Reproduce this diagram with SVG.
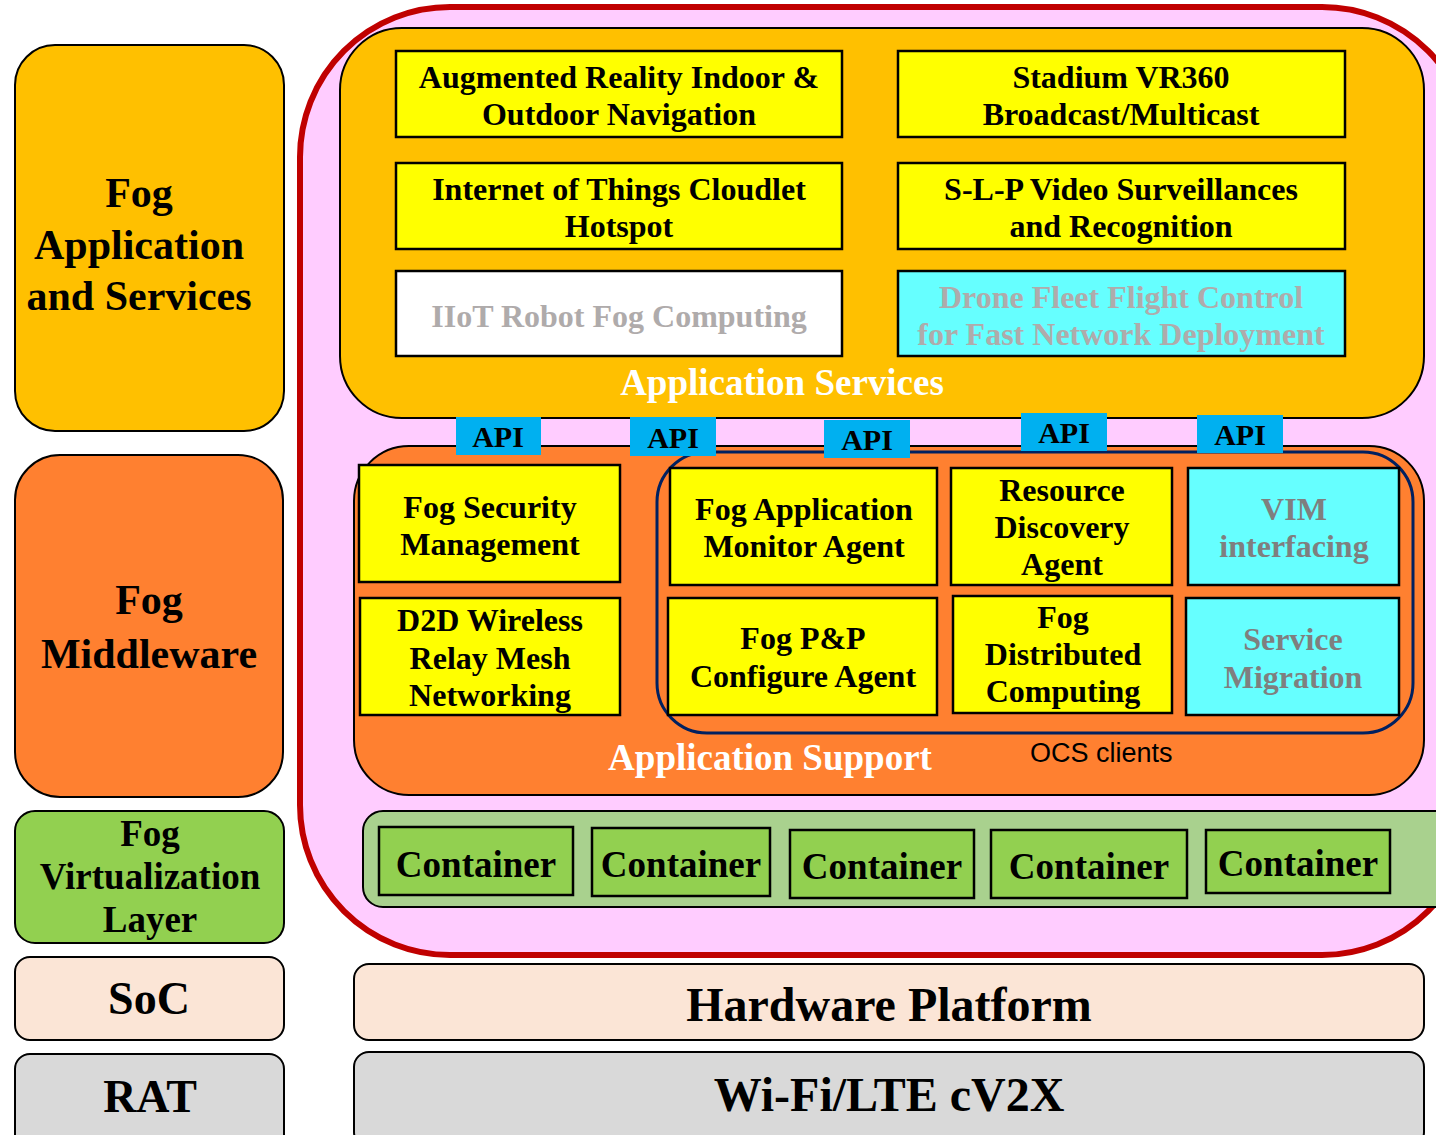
<svg xmlns="http://www.w3.org/2000/svg" width="1436" height="1135" viewBox="0 0 1436 1135">
  <style>
    text { font-family: "Liberation Serif", "Times New Roman", serif; font-weight: bold; text-anchor: middle; fill: #000; }
    .box { stroke: #000; stroke-width: 2.5; }
    .yel { fill: #FFFF00; }
    .cyan { fill: #66FFFF; }
    .api { fill: #00B0F0; }
    .t31 { font-size: 32px; }
    .faint { fill: #AFABAB; }
    .grey { fill: #7F7F7F; }
    .white { fill: #FFFFFF; }
    .cont { fill: #92D050; stroke: #000; stroke-width: 2.5; }
  </style>

  <rect width="1436" height="1135" fill="#FFFFFF"/>

  <!-- left column: layer labels -->
  <g id="layer-app">
    <rect x="15" y="45" width="269" height="386" rx="40" fill="#FFC000" stroke="#000" stroke-width="2"/>
    <text x="139" y="207" font-size="42">Fog</text>
    <text x="139" y="259" font-size="42">Application</text>
    <text x="139" y="310" font-size="42">and Services</text>
  </g>
  <g id="layer-middleware">
    <rect x="15" y="455" width="268" height="342" rx="45" fill="#FF8030" stroke="#000" stroke-width="2"/>
    <text x="149" y="614" font-size="42">Fog</text>
    <text x="149" y="668" font-size="42">Middleware</text>
  </g>
  <g id="layer-virtualization">
    <rect x="15" y="811" width="269" height="132" rx="20" fill="#92D050" stroke="#000" stroke-width="2"/>
    <text x="150" y="846" font-size="37">Fog</text>
    <text x="150" y="889" font-size="37">Virtualization</text>
    <text x="150" y="932" font-size="37">Layer</text>
  </g>
  <g id="layer-soc">
    <rect x="15" y="957" width="269" height="83" rx="15" fill="#FBE5D6" stroke="#000" stroke-width="2"/>
    <text x="149" y="1014" font-size="46">SoC</text>
  </g>
  <g id="layer-rat">
    <rect x="15" y="1054" width="269" height="95" rx="15" fill="#D9D9D9" stroke="#000" stroke-width="2"/>
    <text x="150" y="1112" font-size="46">RAT</text>
  </g>

  <!-- fog node envelope -->
  <g id="fog-node">
    <rect x="300" y="7" width="1172" height="948" rx="150" fill="#FFCCFF" stroke="#C00000" stroke-width="6"/>
  </g>

  <!-- application services -->
  <g id="app-services">
    <rect x="340" y="28" width="1084" height="390" rx="62" fill="#FFC000" stroke="#000" stroke-width="2"/>
    <text class="white" x="782" y="395" font-size="37">Application Services</text>
  </g>
  <g id="svc-ar">
    <rect class="box yel" x="396" y="51" width="446" height="86"/>
    <text class="t31" x="619" y="88">Augmented Reality Indoor &amp;</text>
    <text class="t31" x="619" y="125">Outdoor Navigation</text>
  </g>
  <g id="svc-vr360">
    <rect class="box yel" x="898" y="51" width="447" height="86"/>
    <text class="t31" x="1121" y="88">Stadium VR360</text>
    <text class="t31" x="1121" y="125">Broadcast/Multicast</text>
  </g>
  <g id="svc-iot">
    <rect class="box yel" x="396" y="163" width="446" height="86"/>
    <text class="t31" x="619" y="200">Internet of Things Cloudlet</text>
    <text class="t31" x="619" y="237">Hotspot</text>
  </g>
  <g id="svc-video">
    <rect class="box yel" x="898" y="163" width="447" height="86"/>
    <text class="t31" x="1121" y="200">S-L-P Video Surveillances</text>
    <text class="t31" x="1121" y="237">and Recognition</text>
  </g>
  <g id="svc-iiot">
    <rect class="box" x="396" y="271" width="446" height="85" fill="#FFFFFF"/>
    <text class="t31 faint" x="619" y="327">IIoT Robot Fog Computing</text>
  </g>
  <g id="svc-drone">
    <rect class="box cyan" x="898" y="271" width="447" height="85"/>
    <text class="t31 faint" x="1121" y="308">Drone Fleet Flight Control</text>
    <text class="t31 faint" x="1121" y="345">for Fast Network Deployment</text>
  </g>

  <!-- application support -->
  <g id="app-support">
    <rect x="354" y="446" width="1070" height="349" rx="55" fill="#FF8030" stroke="#000" stroke-width="2"/>
    <text class="white" x="770" y="770" font-size="37">Application Support</text>
  </g>
  <g id="ocs-clients">
    <rect x="657" y="452" width="756" height="281" rx="50" fill="none" stroke="#002060" stroke-width="3"/>
    <text x="1030" y="762" font-size="27" style="font-family:'Liberation Sans',Arial,sans-serif;font-weight:normal;text-anchor:start">OCS clients</text>
  </g>
  <g id="sup-security">
    <rect class="box yel" x="359" y="465" width="261" height="117"/>
    <text class="t31" x="490" y="518">Fog Security</text>
    <text class="t31" x="490" y="555">Management</text>
  </g>
  <g id="sup-d2d">
    <rect class="box yel" x="360" y="598" width="260" height="117"/>
    <text class="t31" x="490" y="631">D2D Wireless</text>
    <text class="t31" x="490" y="669">Relay Mesh</text>
    <text class="t31" x="490" y="706">Networking</text>
  </g>
  <g id="sup-monitor">
    <rect class="box yel" x="670" y="468" width="267" height="117"/>
    <text class="t31" x="804" y="520">Fog Application</text>
    <text class="t31" x="804" y="557">Monitor Agent</text>
  </g>
  <g id="sup-discovery">
    <rect class="box yel" x="951" y="468" width="221" height="117"/>
    <text class="t31" x="1062" y="501">Resource</text>
    <text class="t31" x="1062" y="538">Discovery</text>
    <text class="t31" x="1062" y="575">Agent</text>
  </g>
  <g id="sup-vim">
    <rect class="box cyan" x="1188" y="468" width="211" height="117"/>
    <text class="t31 grey" x="1294" y="520">VIM</text>
    <text class="t31 grey" x="1294" y="557">interfacing</text>
  </g>
  <g id="sup-pnp">
    <rect class="box yel" x="668" y="598" width="269" height="117"/>
    <text class="t31" x="803" y="649">Fog P&amp;P</text>
    <text class="t31" x="803" y="687">Configure Agent</text>
  </g>
  <g id="sup-distributed">
    <rect class="box yel" x="953" y="596" width="219" height="117"/>
    <text class="t31" x="1063" y="628">Fog</text>
    <text class="t31" x="1063" y="665">Distributed</text>
    <text class="t31" x="1063" y="702">Computing</text>
  </g>
  <g id="sup-migration">
    <rect class="box cyan" x="1186" y="598" width="213" height="117"/>
    <text class="t31 grey" x="1293" y="650">Service</text>
    <text class="t31 grey" x="1293" y="688">Migration</text>
  </g>

  <!-- API tabs between services and support -->
  <g id="api-1"><rect class="api" x="456" y="417" width="85" height="38"/><text x="498" y="447" font-size="30">API</text></g>
  <g id="api-2"><rect class="api" x="630" y="417" width="86" height="39"/><text x="673" y="448" font-size="30">API</text></g>
  <g id="api-3"><rect class="api" x="824" y="420" width="86" height="38"/><text x="867" y="450" font-size="30">API</text></g>
  <g id="api-4"><rect class="api" x="1021" y="413" width="86" height="38"/><text x="1064" y="443" font-size="30">API</text></g>
  <g id="api-5"><rect class="api" x="1197" y="415" width="86" height="38"/><text x="1240" y="445" font-size="30">API</text></g>

  <!-- virtualization layer with containers -->
  <g id="virtualization">
    <rect x="363" y="811" width="1100" height="96" rx="20" fill="#A9D18E" stroke="#000" stroke-width="2"/>
  </g>
  <g id="container-1"><rect class="cont" x="379" y="827" width="194" height="68"/><text x="476" y="877" font-size="37">Container</text></g>
  <g id="container-2"><rect class="cont" x="592" y="828" width="178" height="68"/><text x="681" y="877" font-size="37">Container</text></g>
  <g id="container-3"><rect class="cont" x="790" y="830" width="184" height="68"/><text x="882" y="879" font-size="37">Container</text></g>
  <g id="container-4"><rect class="cont" x="991" y="830" width="196" height="68"/><text x="1089" y="879" font-size="37">Container</text></g>
  <g id="container-5"><rect class="cont" x="1206" y="830" width="184" height="63"/><text x="1298" y="876" font-size="37">Container</text></g>

  <!-- platform layers -->
  <g id="hardware">
    <rect x="354" y="964" width="1070" height="76" rx="15" fill="#FBE5D6" stroke="#000" stroke-width="2"/>
    <text x="889" y="1021" font-size="48">Hardware Platform</text>
  </g>
  <g id="radio">
    <rect x="354" y="1052" width="1070" height="95" rx="15" fill="#D9D9D9" stroke="#000" stroke-width="2"/>
    <text x="889" y="1111" font-size="48">Wi-Fi/LTE cV2X</text>
  </g>

  <g id="connectors"/>
</svg>
